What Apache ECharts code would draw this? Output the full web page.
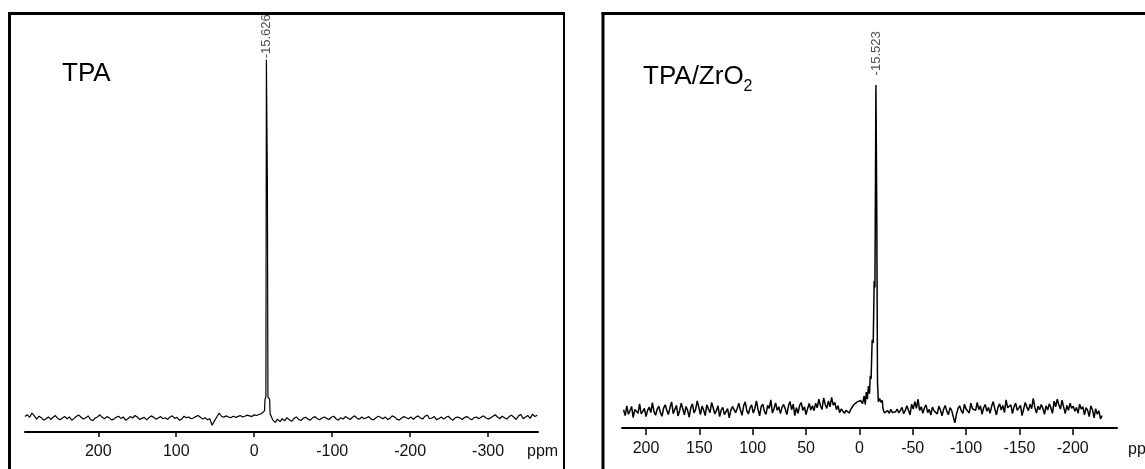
<!DOCTYPE html>
<html><head><meta charset="utf-8">
<script src="https://cdn.jsdelivr.net/npm/echarts@6/dist/echarts.min.js"></script>
<style>html,body{margin:0;padding:0;background:#fff}#c{width:1145px;height:469px}</style>
</head><body><div id="c"></div>
<script>
// ---------------- LEFT PANEL : TPA ----------------
const leftTitle = 'TPA';
const leftNoiseAStart = 294, leftNoiseAStep = -3;   // ppm grid, 294 .. -9
const leftNoiseA = [
  4, 9, 2, 14, 6, -3, 5, 1, -6, -2, 3, -4, 2, 7, -1, -5, 0, 4, -2, 3,
  -6, -1, 5, 8, 2, -3, 1, 6, -4, -7, 0, 3, 9, 2, -2, 4, 1, -5, -3, 2,
  5, -1, 3, -6, -2, 4, 0, 7, 3, -4, -1, 2, -5, 1, 6, 2, -3, 0, 4, -2,
  1, -4, 3, 6, -1, 2, -6, -3, 5, 1, 3, -2, 0, 4, 7, 2, -3, 1, -5, -2,
  -20, -8, 3, 14, 5, 2, 6, 3, 1, 5, 2, 4, 7, 3, 5, 8, 6, 4, 9, 7,
  10, 12
];
const leftPeakPpm = [-11, -13.2, -13.8, -15.0, -15.626, -16.9, -17.6, -19.8, -20.4];
const leftPeakVal = [10, 20, 52, 60, 1000, 660, 58, 52, 12];
const leftNoiseBStart = -24, leftNoiseBStep = -3;   // ppm grid, -24 .. -363
const leftNoiseB = [
  -6, -12, -3, -10, -2, -8, 1, -5, -9, -1, 3, -4, -7, 0, 2, -3, -6, 1, 4, -2,
  -5, 0, 3, -1, -4, 2, 5, -2, -6, 1, -3, 4, 0, -4, 2, 6, -1, -3, 3, -2,
  1, 4, -3, -5, 0, 5, 2, -2, 3, -4, -1, 6, 3, -3, -6, 0, 4, 1, -2, 3,
  -4, 2, 6, 1, -3, 5, 8, -2, 0, 4, -5, -1, 3, -3, 2, 5, -2, -6, 1, 3,
  0, -4, 2, 4, -1, -5, 1, 3, -2, 2, 6, 1, -3, 0, 4, 9, 3, -2, 5, 1,
  -3, 4, 8, 2, -4, 6, 10, -2, 3, 7, -1, 11, 4, 8
];
const leftTicks = [200, 100, 0, -100, -200, -300];
const leftPeakLabel = '-15.626';

// ---------------- RIGHT PANEL : TPA/ZrO2 ----------------
const rightNoiseAStart = 221, rightNoiseAStep = -1.5;  // ppm grid, 221 .. -1
const rightNoiseA = [
  6, -12, 18, -8, 3, 16, -18, 7, 12, -5, 24, -7, 1, 10, -15, 4, 14, -3, 28, 0,
  -11, 8, 17, -3, -14, 11, 21, 4, -9, 13, 30, -6, 7, 19, -13, 3, 26, 9, -10, 16,
  4, -17, 12, 24, -4, 7, 33, 13, -9, 17, 5, -12, 21, 8, -3, 28, 12, -7, 3, 18,
  -15, 5, 13, -9, 0, 9, -19, 4, 16, 22, -3, 10, 26, 5, -11, 18, 30, 3, -7, 12,
  21, -4, 9, 33, 7, -13, 16, 23, 1, -8, 19, 10, 36, -4, 10, 27, 4, 15, -6, 13,
  22, 8, -9, 17, 31, 6, 23, -12, 12, -5, 19, 28, 4, 15, -9, 10, 25, 5, 18, 3,
  26, 12, 38, 18, 7, 42, 22, 10, 33, 15, 44, 20, 28, 6, 18, -3, 8, 13, -5, 4,
  10, -4, 7, 15, 22, 18, 30, 25, 34
];
const rightPeakPpm = [-3.0, -4.5, -5.5, -6.5, -7.5, -8.5, -9.5, -10.2, -11.0, -12.0, -13.0, -13.9, -14.6, -15.1, -15.523, -16.3, -17.0, -17.8, -19.0, -20.5, -21.5, -22.2];
const rightPeakVal = [25, 48, 22, 60, 38, 78, 55, 110, 100, 220, 210, 400, 380, 700, 1000, 620, 90, 30, 40, 28, 35, 8];
const rightNoiseBStart = -23.5, rightNoiseBStep = -1.5; // ppm grid, -23.5 .. -227.5
const rightNoiseB = [
  -4, -8, 3, -5, 7, -3, -9, 0, 8, -4, 4, 13, -6, 3, 18, 5, -10, 23, 8, 31,
  10, 38, 4, 15, -5, 12, 21, -3, 7, -10, 14, 3, 9, -7, 17, 5, -13, 8, 19, 1,
  -9, 12, 4, -15, -34, -8, 10, 18, 3, -5, 23, 8, 14, -4, 26, 9, 15, 4, 28, 6,
  18, -8, 12, 22, 1, 13, -5, 17, 31, 8, -10, 14, 24, 5, 19, -3, 36, 12, 9, 21,
  -6, 15, 26, 4, 10, 19, -12, 8, 28, 14, 3, 23, 9, 41, 13, -4, 17, 6, 22, 10,
  -8, 18, 5, 24, 12, -5, 32, 15, 38, 21, 8, 35, 14, -6, 19, 4, 26, 10, 17, 1,
  13, -5, 23, 8, 15, -10, 12, 4, -15, 18, 6, -19, 9, -8, 3, -22, -12
];
const rightTicks = [200, 150, 100, 50, 0, -50, -100, -150, -200];
const rightPeakLabel = '-15.523';
const axisUnit = 'ppm';

// ---------------- build ----------------
function seg(start, step, vals) { return vals.map((v, i) => [start + step * i, v]); }
function pairs(xs, ys) { return xs.map((x, i) => [x, ys[i]]); }
function maxPoint(xs, ys) { let k = 0; ys.forEach((v, i) => { if (v > ys[k]) k = i; }); return [xs[k], ys[k]]; }

const leftData = seg(leftNoiseAStart, leftNoiseAStep, leftNoiseA)
  .concat(pairs(leftPeakPpm, leftPeakVal))
  .concat(seg(leftNoiseBStart, leftNoiseBStep, leftNoiseB));
const rightData = seg(rightNoiseAStart, rightNoiseAStep, rightNoiseA)
  .concat(pairs(rightPeakPpm, rightPeakVal))
  .concat(seg(rightNoiseBStart, rightNoiseBStep, rightNoiseB));

const FONT = 'Liberation Sans, Arial, Helvetica, sans-serif';

function xAxisCfg(grid, min, max, ticks, tickLen, margin, nameGap, namePadTop) {
  return {
    gridIndex: grid, type: 'value', inverse: true, min: min, max: max,
    axisLine: { onZero: false, lineStyle: { color: '#000', width: 2 } },
    axisTick: { customValues: ticks, length: tickLen, lineStyle: { color: '#000', width: 1.5 } },
    axisLabel: { customValues: ticks, margin: margin, fontSize: 16, color: '#111', fontFamily: FONT },
    splitLine: { show: false },
    name: axisUnit, nameLocation: 'start', nameGap: nameGap, nameMoveOverlap: false,
    nameTextStyle: { fontSize: 16, color: '#111', fontFamily: FONT, align: 'left', verticalAlign: 'top', padding: [namePadTop, 0, 0, 0] }
  };
}

function peakLabelSeries(xi, point, text, dist) {
  return {
    type: 'scatter', xAxisIndex: xi, yAxisIndex: xi, data: [point],
    symbolSize: 1, itemStyle: { color: 'rgba(0,0,0,0)' }, silent: true, animation: false,
    label: { show: true, formatter: text, position: 'top', distance: dist, rotate: 90,
             align: 'left', verticalAlign: 'middle', fontSize: 13, color: '#222', fontFamily: FONT }
  };
}

const chart = echarts.init(document.getElementById('c'), null, { renderer: 'canvas' });
chart.setOption({
  backgroundColor: '#fff',
  animation: false,
  title: [
    { text: leftTitle, left: 62, top: 61, padding: 0,
      textStyle: { fontSize: 26, fontWeight: 'normal', color: '#000', fontFamily: FONT } },
    { text: '{m|TPA/ZrO}{s|2}', left: 643, top: 65, padding: 0,
      textStyle: { fontFamily: FONT, fontWeight: 'normal', color: '#000',
        rich: { m: { fontSize: 26, fontFamily: FONT, color: '#000', verticalAlign: 'bottom', lineHeight: 30, padding: [0, 0, 5, 0] },
                s: { fontSize: 16, fontFamily: FONT, color: '#000', verticalAlign: 'bottom', lineHeight: 18 } } } }
  ],
  grid: [
    { left: 25, right: 607, top: 14, bottom: 37, outerBoundsMode: 'none', containLabel: false },
    { left: 622, right: 28, top: 14, bottom: 41, outerBoundsMode: 'none', containLabel: false }
  ],
  xAxis: [
    xAxisCfg(0, -364, 294, leftTicks, 5, 12, -11, 12),
    xAxisCfg(1, -241.5, 222.5, rightTicks, 7, 13, 11, 14)
  ],
  yAxis: [
    { gridIndex: 0, type: 'value', min: -39, max: 1128, show: false },
    { gridIndex: 1, type: 'value', min: -50, max: 1217, show: false }
  ],
  series: [
    { type: 'line', xAxisIndex: 0, yAxisIndex: 0, data: leftData, showSymbol: false, silent: true,
      lineStyle: { color: '#000', width: 1.2 } },
    { type: 'line', xAxisIndex: 1, yAxisIndex: 1, data: rightData, showSymbol: false, silent: true,
      lineStyle: { color: '#000', width: 1.5 } },
    peakLabelSeries(0, maxPoint(leftPeakPpm, leftPeakVal), leftPeakLabel, 1),
    peakLabelSeries(1, maxPoint(rightPeakPpm, rightPeakVal), rightPeakLabel, 9)
  ],
  graphic: [
    { type: 'line', silent: true, shape: { x1: 9.5, y1: 12, x2: 9.5, y2: 480 }, style: { stroke: '#000', lineWidth: 3 } },
    { type: 'line', silent: true, shape: { x1: 8, y1: 13.5, x2: 565, y2: 13.5 }, style: { stroke: '#000', lineWidth: 3 } },
    { type: 'line', silent: true, shape: { x1: 564, y1: 12, x2: 564, y2: 480 }, style: { stroke: '#000', lineWidth: 2 } },
    { type: 'line', silent: true, shape: { x1: 603, y1: 12, x2: 603, y2: 480 }, style: { stroke: '#000', lineWidth: 3 } },
    { type: 'line', silent: true, shape: { x1: 601.5, y1: 13.5, x2: 1150, y2: 13.5 }, style: { stroke: '#000', lineWidth: 3 } }
  ]
});
</script></body></html>
